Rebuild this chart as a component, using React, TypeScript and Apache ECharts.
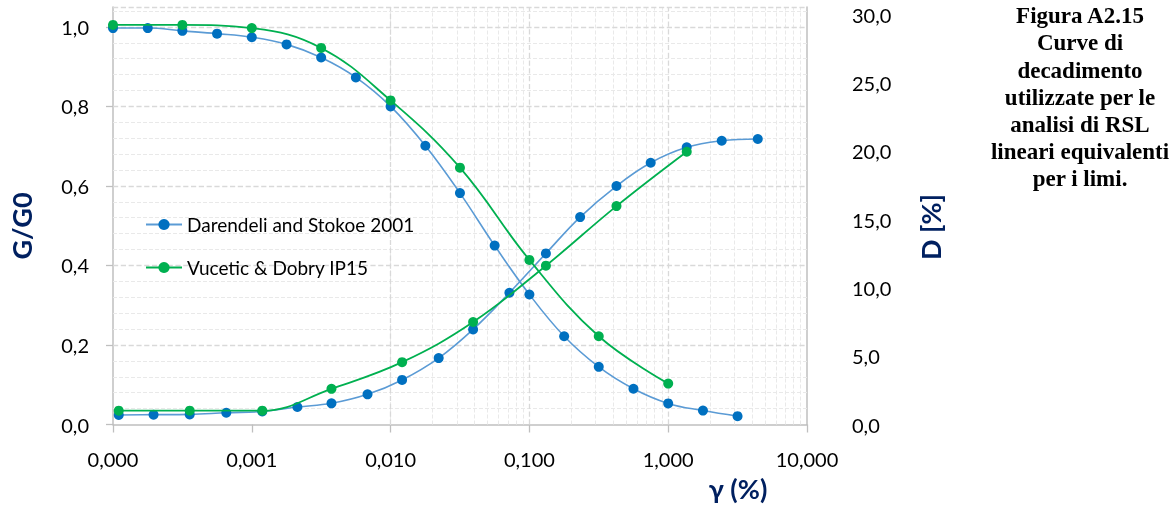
import React, { useEffect, useRef } from 'react';
import * as echarts from 'echarts';

// ---- Data ----
const nameDS = 'Darendeli and Stokoe 2001';
const nameVD = 'Vucetic & Dobry IP15';

// G/G0 curves (left axis)
const strainDarendeliG = [0.0001, 0.000178, 0.000316, 0.000562, 0.001, 0.00178, 0.00316, 0.00562, 0.01, 0.0178, 0.0316, 0.0562, 0.1, 0.178, 0.316, 0.562, 1.0, 1.78, 3.16];
const ggDarendeli = [0.997, 0.997, 0.990, 0.983, 0.974, 0.956, 0.923, 0.873, 0.800, 0.701, 0.582, 0.450, 0.327, 0.222, 0.145, 0.090, 0.053, 0.035, 0.021];

const strainVuceticG = [0.0001, 0.000316, 0.001, 0.00316, 0.01, 0.0316, 0.1, 0.316, 1.0];
const ggVucetic = [1.005, 1.005, 0.997, 0.947, 0.815, 0.646, 0.414, 0.222, 0.103];

// Damping curves (right axis, %)
const strainDarendeliD = [0.00011, 0.000196, 0.000357, 0.000655, 0.00119, 0.00213, 0.00375, 0.00682, 0.0121, 0.0222, 0.0393, 0.0718, 0.1315, 0.232, 0.424, 0.748, 1.36, 2.43, 4.42];
const dDarendeli = [0.70, 0.72, 0.74, 0.86, 0.95, 1.28, 1.55, 2.21, 3.26, 4.86, 6.96, 9.64, 12.52, 15.18, 17.45, 19.15, 20.28, 20.76, 20.89];

const strainVuceticD = [0.00011, 0.000357, 0.00119, 0.00375, 0.0121, 0.0393, 0.1315, 0.424, 1.36];
const dVucetic = [1.01, 1.01, 1.01, 2.61, 4.56, 7.50, 11.62, 15.98, 19.96];

// Tick labels
const xTicks = [0.0001, 0.001, 0.01, 0.1, 1, 10];
const leftTicks = [0, 0.2, 0.4, 0.6, 0.8, 1.0];
const rightTicks = [0, 5, 10, 15, 20, 25, 30];

const captionLines = ['Figura A2.15', 'Curve di', 'decadimento', 'utilizzate per le', 'analisi di RSL', 'lineari equivalenti', 'per i limi.'];

const NAVY = '#002060';
const AXIS_GRAY = '#bfbfbf';
const MAJOR_GRID = '#d9d9d9';
const MINOR_GRID = '#e9e9e9';

const zip = (xs: number[], ys: number[]) => xs.map((x, i) => [x, ys[i]]);
const comma = (s: string) => s.replace('.', ',');

function buildGridLines() {
  const items: any[] = [];
  for (let n = -4; n <= 0; n++) {
    for (let k = 2; k <= 9; k++) {
      items.push({ xAxis: k * Math.pow(10, n), lineStyle: { color: MINOR_GRID, width: 1 } });
    }
  }
  for (let i = 1; i <= 26; i++) {
    if (i % 5 === 0) continue;
    items.push({ yAxis: +(i * 0.04).toFixed(2), lineStyle: { color: MINOR_GRID, width: 1 } });
  }
  [0.001, 0.01, 0.1, 1].forEach((v) => items.push({ xAxis: v, lineStyle: { color: MAJOR_GRID, width: 1.3 } }));
  [0.2, 0.4, 0.6, 0.8, 1.0, 1.05].forEach((v) => items.push({ yAxis: v, lineStyle: { color: MAJOR_GRID, width: 1.3 } }));
  return items;
}

export default function App() {
  const ref = useRef<HTMLDivElement>(null);

  useEffect(() => {
    if (!ref.current) return;
    const chart = echarts.init(ref.current, null, { renderer: 'svg' });

    const font = 'Lato';
    const lineSeries = (name: string, yIdx: number, data: number[][], lineColor: string, dotColor: string, width: number, z: number) => ({
      name,
      type: 'line',
      yAxisIndex: yIdx,
      data,
      smooth: 0.4,
      symbol: 'circle',
      symbolSize: 10,
      lineStyle: { color: lineColor, width },
      itemStyle: { color: dotColor },
      emphasis: { disabled: true },
      z,
    });

    const option: any = {
      animation: false,
      grid: { left: 113, right: 369, top: 7, bottom: 84.5, containLabel: false, outerBoundsMode: 'none' },
      legend: {
        data: [nameDS, nameVD],
        orient: 'vertical',
        left: 140,
        top: 210,
        itemWidth: 36,
        itemHeight: 14,
        itemGap: 24,
        textStyle: { fontSize: 19, fontFamily: font, color: '#000' },
        selectedMode: false,
      },
      xAxis: {
        type: 'log',
        logBase: 10,
        min: 0.0001,
        max: 10,
        axisLine: { show: true, lineStyle: { color: AXIS_GRAY, width: 1.5 } },
        axisTick: { show: true, length: 8, lineStyle: { color: AXIS_GRAY, width: 1.3 }, customValues: xTicks },
        axisLabel: {
          customValues: xTicks,
          formatter: (v: number) => comma(v.toFixed(3)),
          fontSize: 20,
          fontFamily: font,
          color: '#000',
          margin: 24,
        },
        splitLine: { show: false },
        minorTick: { show: false },
        minorSplitLine: { show: false },
      },
      yAxis: [
        {
          type: 'value',
          position: 'left',
          min: 0,
          max: 1.05,
          interval: 0.2,
          axisLine: { show: true, lineStyle: { color: AXIS_GRAY, width: 1.5 } },
          axisTick: { show: true, length: 7, lineStyle: { color: AXIS_GRAY, width: 1.3 }, customValues: leftTicks },
          axisLabel: {
            customValues: leftTicks,
            formatter: (v: number) => (v > 1.001 ? '' : comma(v.toFixed(1))),
            fontSize: 20,
            fontFamily: font,
            color: '#000',
            margin: 24,
          },
          splitLine: { show: false },
        },
        {
          type: 'value',
          position: 'right',
          min: 0,
          max: 30.55,
          interval: 5,
          axisLine: { show: true, lineStyle: { color: AXIS_GRAY, width: 1.5 } },
          axisTick: { show: false },
          axisLabel: {
            customValues: rightTicks,
            formatter: (v: number) => (v > 30.01 ? '' : comma(v.toFixed(1))),
            fontSize: 20,
            fontFamily: font,
            color: '#000',
            margin: 45,
          },
          splitLine: { show: false },
        },
      ],
      series: [
        {
          name: 'grid',
          type: 'line',
          xAxisIndex: 0,
          yAxisIndex: 0,
          data: [],
          z: 1,
          silent: true,
          markLine: {
            silent: true,
            z: 1,
            symbol: ['none', 'none'],
            label: { show: false },
            emphasis: { disabled: true },
            animation: false,
            data: buildGridLines(),
          },
        },
        lineSeries(nameDS, 0, zip(strainDarendeliG, ggDarendeli), '#5b9bd5', '#0070c0', 1.6, 3),
        lineSeries(nameDS, 1, zip(strainDarendeliD, dDarendeli), '#5b9bd5', '#0070c0', 1.6, 3),
        lineSeries(nameVD, 0, zip(strainVuceticG, ggVucetic), '#00b050', '#00b050', 1.8, 4),
        lineSeries(nameVD, 1, zip(strainVuceticD, dVucetic), '#00b050', '#00b050', 1.8, 4),
      ],
      graphic: [
        {
          type: 'text',
          x: 21,
          y: 226,
          rotation: Math.PI / 2,
          style: { text: 'G/G0', fill: NAVY, font: `bold 27px ${font}`, align: 'center', verticalAlign: 'middle' },
        },
        {
          type: 'text',
          x: 930,
          y: 227,
          rotation: Math.PI / 2,
          style: { text: 'D [%]', fill: NAVY, font: `bold 27px ${font}`, align: 'center', verticalAlign: 'middle' },
        },
        {
          type: 'text',
          x: 738,
          y: 488,
          style: { text: 'γ (%)', fill: NAVY, font: `bold 27px ${font}`, align: 'center', verticalAlign: 'middle' },
        },
        {
          type: 'text',
          x: 1080,
          y: 2,
          style: {
            text: captionLines.join('\n'),
            fill: '#000',
            font: 'bold 23px "Liberation Serif"',
            lineHeight: 27.2,
            align: 'center',
            verticalAlign: 'top',
          },
        },
      ],
    };

    chart.setOption(option);
    return () => chart.dispose();
  }, []);

  return <div ref={ref} style={{ position: 'fixed', left: 0, top: 0, width: 1176, height: 509 }} />;
}
